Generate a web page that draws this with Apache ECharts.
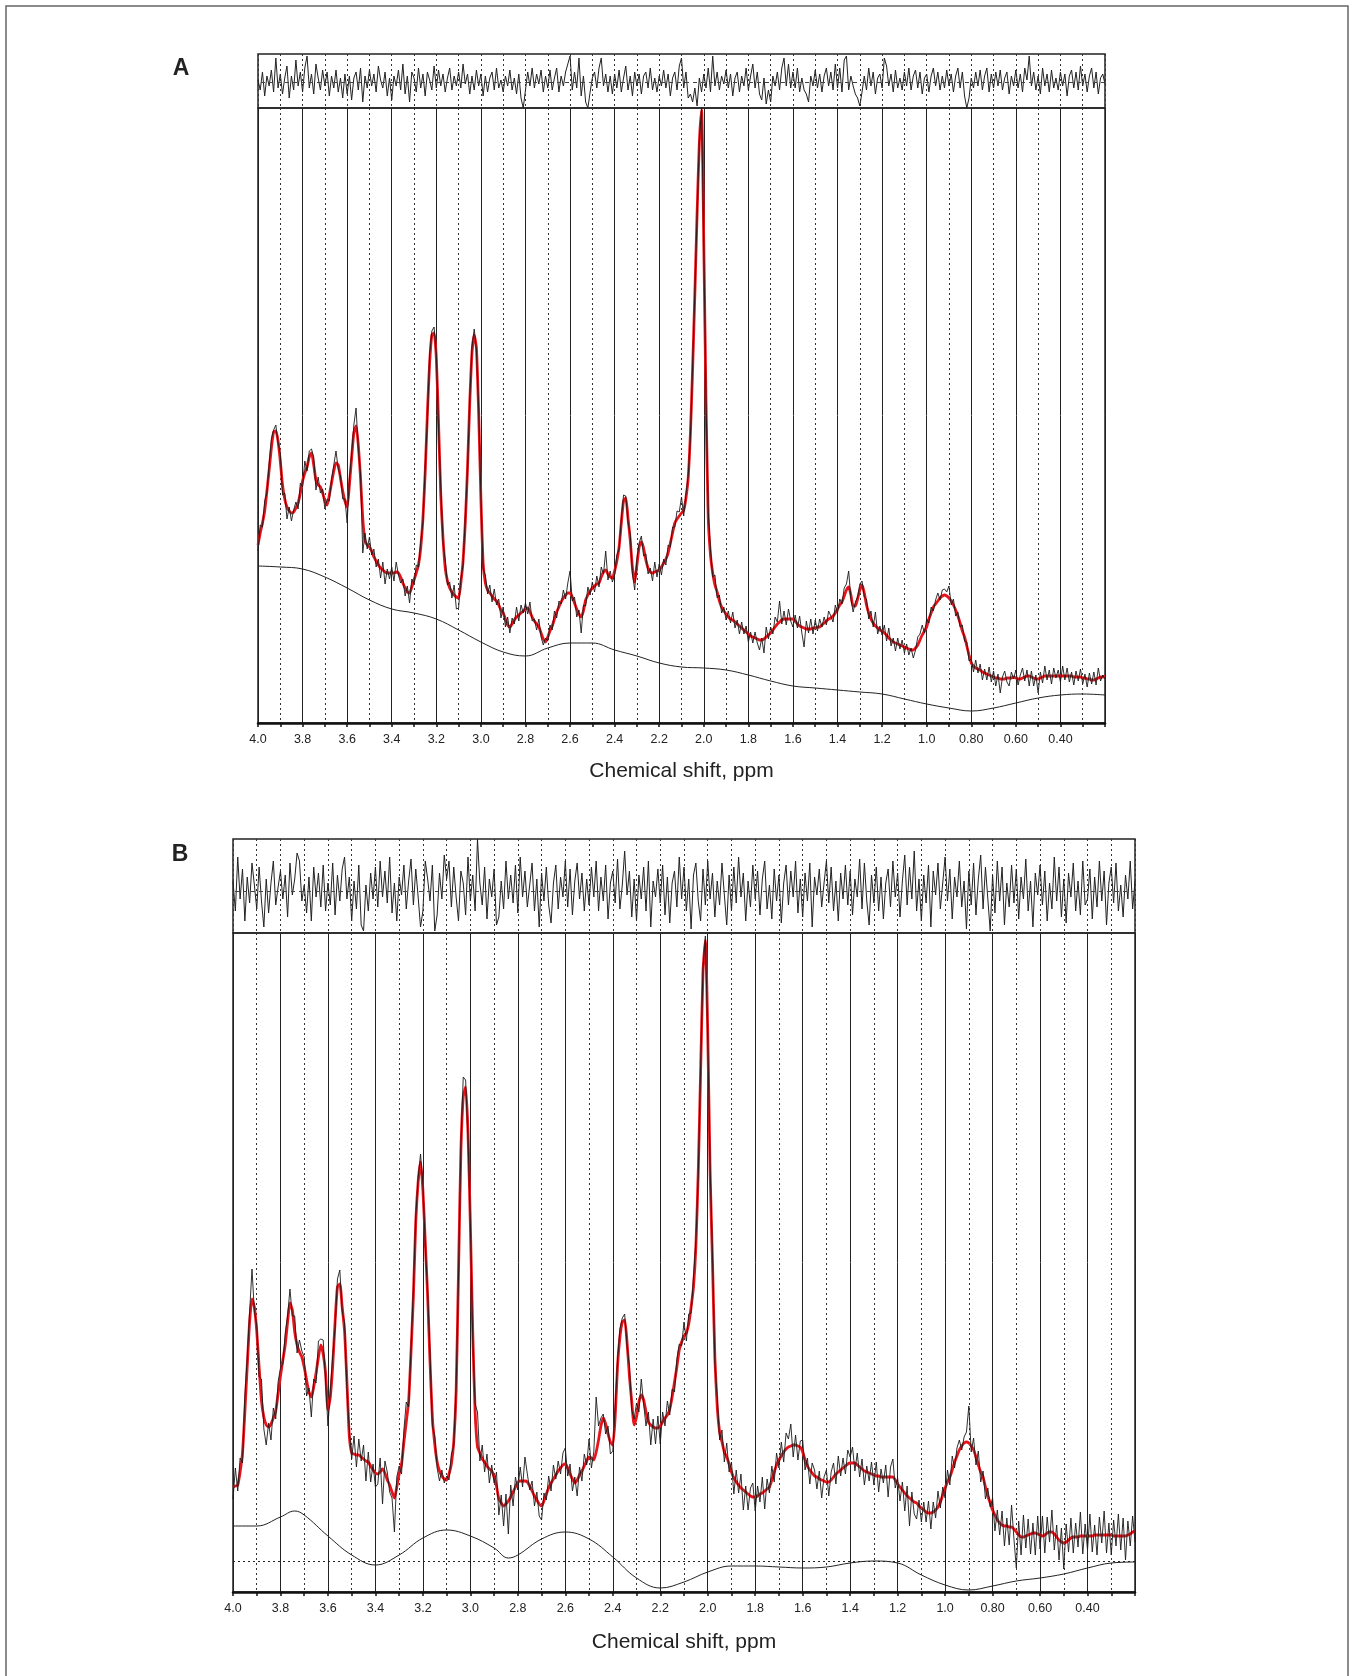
<!DOCTYPE html>
<html><head><meta charset="utf-8">
<script src="https://cdn.jsdelivr.net/npm/echarts@6/dist/echarts.min.js"></script>
<style>html,body{margin:0;padding:0;background:#fff}#c{width:1353px;height:1676px}</style>
</head><body><div id="c"></div>
<script>
// ppm grid of the sampled traces: 4.00 down to 0.20 in 0.01 steps (381 samples)
const PPM_START = 4.0, PPM_STEP = 0.01;
const tickLabels = ['4.0','3.8','3.6','3.4','3.2','3.0','2.8','2.6','2.4','2.2','2.0','1.8','1.6','1.4','1.2','1.0','0.80','0.60','0.40'];
const axisTitle = 'Chemical shift, ppm';

// ---------- Panel A ----------
const fitA = [
178,190,200,212,232,253,275,291,292,282,
262,238,224,216,212,210,211,215,220,230,
242,250,256,266,270,258,243,238,236,230,
222,218,228,240,252,260,258,245,232,222,
216,238,265,290,297,278,245,205,182,178,
176,172,166,162,158,155,153,151,150,150,
150,150,151,150,146,140,135,131,130,136,
143,150,158,175,205,250,310,360,388,390,
365,300,228,185,155,142,135,131,128,126,
125,140,162,200,255,320,370,388,375,310,
225,160,140,133,130,127,124,122,118,113,
110,104,98,96,99,103,106,108,110,112,
114,115,111,106,102,99,96,90,84,81,
86,92,97,104,111,116,121,125,128,130,
130,126,120,114,109,106,112,123,128,132,
135,137,139,140,146,151,153,149,146,145,
152,162,176,200,222,225,205,183,155,141,
158,176,181,175,163,155,151,150,151,152,
153,156,160,164,170,180,190,200,204,207,
210,213,225,245,290,355,430,510,580,613,
480,320,205,168,150,138,131,122,116,112,
109,106,104,103,101,99,97,95,93,91,
89,87,86,85,84,83,83,84,86,88,
90,93,96,99,101,103,104,104,104,104,
104,102,99,97,96,95,94,94,94,95,
95,96,96,98,100,102,104,105,107,110,
114,118,121,127,133,136,128,117,117,124,
133,138,130,118,110,104,100,97,95,93,
92,90,88,85,83,81,80,79,78,77,
76,75,74,73,73,75,78,83,88,92,
96,104,110,116,119,122,125,127,128,127,
125,122,118,113,107,100,92,86,77,68,
60,57,55,54,53,51,50,49,48,47,
46,45,45,44,44,44,45,45,45,46,
45,44,44,45,46,47,47,46,45,44,
44,45,46,47,47,47,47,47,47,47,
47,47,47,47,47,47,46,46,46,46,
45,45,44,44,43,43,44,45,46,46,
47];

const specA = [
172,198,196,222,230,259,284,293,298,280,
270,228,230,204,216,202,213,221,214,240,
236,262,252,272,274,266,233,246,230,234,
214,224,222,244,258,272,254,247,224,224,
200,244,269,298,315,274,249,170,190,174,
186,168,174,156,164,145,161,139,154,144,
156,142,161,148,140,144,127,137,120,144,
139,158,156,181,201,256,304,368,392,396,
369,294,236,180,163,138,141,125,138,114,
115,144,158,206,253,324,376,394,373,314,
227,154,148,129,138,121,134,118,124,105,
116,96,106,90,105,99,116,102,118,110,
120,109,121,102,104,93,104,86,78,85,
82,98,93,112,105,122,119,133,124,140,
152,122,126,106,113,90,118,117,136,128,
141,131,147,136,156,149,172,143,152,141,
148,168,174,204,228,227,201,189,149,133,
164,180,187,167,169,149,155,142,161,146,
159,148,164,158,178,176,196,196,212,211,
226,207,229,247,286,359,432,508,582,615,
478,324,211,174,146,148,125,128,110,116,
103,112,100,111,95,103,89,101,89,97,
81,91,80,91,80,73,85,70,96,84,
96,89,106,101,122,99,112,98,114,102,
96,108,95,107,90,76,102,90,104,89,
103,92,104,96,106,98,112,107,101,118,
110,124,119,135,139,152,124,111,121,126,
139,142,126,124,104,112,96,111,89,97,
88,98,82,95,77,85,72,85,74,83,
70,79,68,75,65,73,86,89,98,90,
104,100,116,112,123,130,123,133,134,131,
137,118,124,107,111,96,98,82,81,62,
64,51,63,50,59,43,54,43,56,41,
52,37,49,30,46,52,41,37,51,44,
53,38,48,55,42,53,37,52,37,48,
30,51,40,57,43,53,39,55,45,53,
41,57,43,55,41,51,38,52,42,54,
39,49,36,50,39,51,38,55,42,48,
44];

const residA = [
2,-8,10,-14,6,-4,12,-10,24,-6,
8,-12,4,16,-16,6,-8,22,-4,10,
-10,14,26,-6,8,-12,18,4,-8,12,
-4,10,-14,6,-6,12,-10,4,-16,8,
-12,6,-18,4,10,-8,14,-20,6,-6,
12,-4,8,-10,16,2,-6,10,-14,4,
-18,6,-4,12,-8,18,-12,6,-20,10,
4,-10,14,-6,8,-14,10,2,-8,16,
-6,12,-4,8,-10,4,14,-8,6,-4,
10,-6,18,-2,8,-12,6,-8,12,-4,
8,-14,6,-10,4,10,-8,14,-6,2,
-10,6,-4,12,-8,4,-12,8,-16,-26,
-8,10,-4,14,-6,8,-2,12,-10,6,
-6,12,-8,4,14,-10,6,-4,10,18,
26,-8,10,-6,24,-14,6,-20,-26,-10,
4,10,-6,14,24,-4,8,-10,6,-12,
8,-6,12,-10,4,16,-8,6,-14,10,
-4,8,-12,6,10,-6,14,-8,4,-10,
6,-4,12,-6,8,-14,4,10,-8,16,
24,-6,10,-16,-12,-20,-6,-24,4,-10,
8,-6,14,-10,26,-4,10,-8,6,-2,
12,-6,8,-14,4,10,-10,6,-4,14,
-8,6,18,-6,10,-12,-18,4,-22,-8,
-20,6,-4,10,-8,14,24,-4,18,-6,
10,-6,14,-10,4,-8,-12,-20,6,-4,
12,-6,8,-10,6,14,-4,10,-8,18,
-6,14,-10,22,26,-8,6,-4,-12,-16,
-24,-10,6,-8,14,-4,10,-12,4,8,
-6,24,16,-4,8,-10,12,-6,4,-8,
10,-4,14,-8,6,12,-6,10,-12,4,
8,-10,6,14,-4,10,-8,6,-6,12,
-4,8,-10,6,14,-6,10,-14,-26,-16,
4,-6,10,-4,12,-8,6,14,-10,8,
-6,10,-4,12,-8,4,10,-12,6,-4,
12,-6,8,-10,14,2,26,-4,10,-8,
6,-12,14,-4,8,-10,12,-6,4,-8,
10,-4,8,-14,6,12,-6,10,-8,16,
-4,8,-10,6,14,-6,10,-12,4,8,
-2];

const baseA_ppm = [4.0,3.9,3.8,3.7,3.6,3.5,3.4,3.3,3.2,3.1,3.0,2.9,2.8,2.7,2.6,2.5,2.4,2.3,2.2,2.1,2.0,1.9,1.8,1.7,1.6,1.5,1.4,1.3,1.2,1.1,1.0,0.9,0.8,0.7,0.6,0.5,0.4,0.3,0.2];
const baseA = [157,156,154,146,135,123,114,110,104,93,81,71,67,75,80,80,73,67,60,56,55,53,48,42,37,35,33,31,29,24,19,15,12,15,20,25,28,29,28];

// ---------- Panel B ----------
const fitB = [
105,106,107,120,139,180,226,270,293,285,
261,225,191,175,167,165,168,174,181,198,
216,232,247,270,289,282,260,247,240,235,
225,212,200,195,205,219,235,247,238,219,
182,195,226,270,305,308,285,261,210,156,
139,138,137,137,135,133,131,130,126,122,
119,118,120,123,119,112,107,100,94,105,
118,128,150,170,191,240,296,370,410,430,
402,350,296,230,174,148,130,121,116,113,
112,118,128,150,200,320,440,495,505,460,
367,260,180,145,139,133,130,126,123,121,
115,106,93,89,86,88,91,95,100,105,
110,111,111,111,110,106,101,96,92,88,
86,91,98,104,109,113,117,121,124,127,
128,124,118,113,109,112,117,121,126,131,
135,134,132,140,152,166,174,168,158,150,
147,175,226,255,270,272,250,216,190,167,
175,190,197,192,180,170,167,165,164,164,
166,170,174,177,183,195,210,225,242,250,
256,259,268,285,305,345,420,520,620,652,
560,420,330,235,185,160,150,140,135,128,
120,114,110,107,104,102,100,98,96,95,
95,96,98,99,101,103,105,112,120,127,
132,136,140,143,145,146,147,147,146,145,
140,132,126,122,119,116,115,113,112,111,
110,110,112,115,118,120,122,124,126,128,
129,129,129,127,125,123,121,120,119,118,
117,116,116,115,115,115,115,115,115,112,
108,105,102,99,96,94,92,90,89,86,
84,82,80,79,79,80,82,85,90,97,
104,110,115,122,130,136,142,146,149,150,
149,146,142,135,127,120,115,105,96,89,
82,77,72,69,67,66,66,65,65,63,
60,57,55,55,56,57,58,59,59,58,
57,56,57,59,60,60,58,55,52,50,
49,50,52,54,55,55,55,56,56,56,
56,56,56,57,57,57,57,57,57,57,
57,56,56,56,56,56,56,57,58,60,
61];

const specB = [
93,124,101,134,129,196,234,280,323,281,
267,215,213,163,147,169,152,184,173,210,
224,228,259,276,303,276,276,239,252,241,
235,196,204,175,213,209,251,253,252,211,
166,201,236,264,313,322,281,269,202,162,
133,156,125,153,131,147,111,140,110,128,
105,108,134,88,131,120,100,94,60,115,
126,118,162,190,185,244,304,376,414,438,
408,346,300,238,166,156,124,111,122,109,
116,112,138,146,206,316,446,515,512,454,
371,254,188,180,131,147,120,138,109,127,
109,120,77,97,66,98,58,107,86,115,
102,125,105,135,118,102,111,86,100,76,
72,99,92,116,101,127,113,131,118,139,
144,116,128,101,115,96,125,111,138,127,
153,124,140,195,166,174,178,158,166,138,
141,185,232,263,274,278,246,226,182,173,
189,180,213,188,166,180,147,173,148,176,
148,180,166,191,177,203,200,233,248,246,
270,251,278,279,315,351,416,526,624,656,
556,426,338,229,195,152,162,130,149,120,
130,98,122,99,118,82,106,82,104,109,
81,106,90,115,83,113,99,126,110,139,
124,150,130,159,153,168,135,157,132,151,
152,122,134,108,129,122,103,121,94,115,
122,96,120,129,108,136,116,134,118,142,
135,145,121,139,115,133,107,126,111,130,
107,130,100,123,109,127,95,125,133,104,
114,91,110,81,106,66,100,78,73,92,
70,90,70,91,63,90,74,101,84,105,
94,122,107,136,124,144,152,142,155,160,
186,140,154,127,141,110,121,93,104,85,
94,61,82,57,81,46,74,47,87,53,
24,71,37,77,44,73,38,69,37,76,
43,76,39,75,50,82,42,67,32,64,
23,68,40,74,39,69,45,80,38,68,
42,78,40,67,37,75,49,81,39,69,
37,72,46,78,42,74,32,71,46,76,
50];

const residB = [
10,-20,34,-8,22,-30,14,-12,28,6,
-18,24,-10,-36,12,-22,8,30,-14,4,
20,-8,16,-26,28,-4,12,38,30,-10,
6,-22,14,-30,24,-6,18,-16,26,-20,
8,-14,28,-24,16,-10,22,34,-8,14,
-30,10,-18,26,-34,-40,6,-20,18,-8,
24,-16,30,-6,20,-12,34,-22,8,-30,
14,-4,26,-18,10,32,-14,22,-6,-36,
-20,30,12,-10,26,-40,-24,18,-8,36,
12,30,-16,24,-6,-30,20,8,-24,34,
-10,16,-20,52,8,-14,24,-28,12,-6,
22,-34,-26,10,-18,30,-8,16,-12,26,
-22,34,-6,20,-16,6,28,-20,12,-36,
18,-10,24,-14,-32,8,26,-18,14,-6,
30,-16,22,-24,10,28,-8,18,-20,12,
-14,24,-6,30,-20,14,-10,26,-28,8,
20,-12,32,-18,6,40,-4,20,-26,12,
-30,16,-8,24,-20,30,-36,10,-6,22,
-12,26,-24,14,-32,8,20,-16,34,-8,
24,-20,12,-38,16,28,-10,-30,22,-14,
30,-8,18,-26,10,-14,28,-4,-34,16,
-20,24,-12,34,-6,18,-30,10,-16,26,
-8,20,-24,12,30,-18,6,-28,22,-10,
16,-32,8,26,-14,20,-6,30,-22,12,
-26,18,-10,28,-36,14,-4,22,-16,8,
30,-12,24,-20,10,-30,18,-8,26,-14,
20,-24,12,-6,32,-18,28,-10,-34,16,
-12,24,-20,14,-28,8,22,-16,30,-6,
18,-26,10,36,-14,24,-8,40,-20,12,
-30,16,-12,26,-36,20,-4,28,-18,8,
34,-10,22,-28,14,-6,30,-16,10,-38,
20,-14,28,-24,12,36,-18,24,-8,-40,
16,-22,30,-10,24,-34,8,-16,26,-12,
22,-28,14,-8,32,-20,10,-36,18,-4,
26,-14,20,-30,8,-18,34,-10,24,-26,
12,-32,18,-6,28,-20,10,-24,30,-14,
-8,22,-28,14,-16,30,-10,20,-34,8,
24,-12,28,-20,6,-26,16,-8,30,-18,
10];

const baseB_ppm = [4.0,3.9,3.8,3.74,3.7,3.6,3.5,3.4,3.3,3.2,3.1,3.0,2.9,2.84,2.8,2.7,2.6,2.5,2.4,2.3,2.2,2.1,2.0,1.9,1.8,1.7,1.6,1.5,1.4,1.3,1.2,1.1,1.0,0.9,0.8,0.7,0.6,0.5,0.4,0.3,0.2];
const baseB = [66,66,75,81,77,56,37,27,37,54,62,56,44,34,37,53,60,53,35,14,4,10,20,26,26,25,24,25,29,31,29,17,7,2,6,11,14,18,24,29,30];
const zeroB = 31;

// ---------- helpers ----------
const FONT = '"Liberation Sans", Arial, Helvetica, sans-serif';
function sampled(arr){ return arr.map((v,i)=>[+(PPM_START - i*PPM_STEP).toFixed(2), v]); }
function paired(xs, ys){ return xs.map((x,i)=>[x, ys[i]]); }
function tickFmt(v){
  const s = tickLabels.find(t => Math.abs(parseFloat(t) - v) < 1e-6);
  return s || '';
}
function xAx(gridIndex, extra){
  return Object.assign({
    type:'value', gridIndex, min:0.2, max:4.0, inverse:true, interval:0.1,
    axisLine:{show:false}, axisTick:{show:false}, axisLabel:{show:false},
    splitLine:{show:true, lineStyle:{color:'#333', width:1, type:[2,3]}}
  }, extra || {});
}
function labelledX(gridIndex, gap){
  return xAx(gridIndex, {
    axisLine:{show:true, onZero:false, lineStyle:{color:'#111', width:2.5}},
    axisTick:{show:true, length:4, lineStyle:{color:'#111', width:1.5}},
    axisLabel:{show:true, margin:10, fontSize:12.5, color:'#222', fontFamily:FONT, formatter:tickFmt, showMinLabel:true, showMaxLabel:true},
    name: axisTitle, nameLocation:'middle', nameGap:gap,
    nameTextStyle:{fontSize:21, color:'#222', fontFamily:FONT}
  });
}
function solidX(gridIndex){
  return xAx(gridIndex, {interval:0.2, splitLine:{show:true, lineStyle:{color:'#222', width:1, type:'solid'}}});
}
const gridStyle = {show:true, borderColor:'#222', borderWidth:1.5, backgroundColor:'transparent'};
const lineBase = {type:'line', showSymbol:false, symbol:'none', silent:true, animation:false};

const option = {
  animation:false,
  backgroundColor:'#fff',
  grid:[
    Object.assign({left:258, top:54, width:847, height:54}, gridStyle),
    Object.assign({left:258, top:108, width:847, height:615}, gridStyle),
    Object.assign({left:233, top:839, width:902, height:94}, gridStyle),
    Object.assign({left:233, top:933, width:902, height:659}, gridStyle)
  ],
  xAxis:[
    xAx(0), labelledX(1, 38), solidX(1),
    xAx(2), labelledX(3, 40), solidX(3)
  ],
  yAxis:[
    {type:'value', gridIndex:0, min:-26, max:28, show:false},
    {type:'value', gridIndex:1, min:0, max:615, show:false},
    {type:'value', gridIndex:2, min:-42, max:52, show:false},
    {type:'value', gridIndex:3, min:0, max:659, show:false}
  ],
  series:[
    Object.assign({}, lineBase, {name:'residual A', xAxisIndex:0, yAxisIndex:0, data:sampled(residA),
      lineStyle:{color:'#222', width:1}, z:3,
      markLine:{silent:true, symbol:'none', label:{show:false}, lineStyle:{color:'#444', width:1, type:[4,4]}, data:[{yAxis:0}]}}),
    Object.assign({}, lineBase, {name:'baseline A', xAxisIndex:1, yAxisIndex:1, data:paired(baseA_ppm, baseA), smooth:0.4,
      lineStyle:{color:'#222', width:1}, z:3}),
    Object.assign({}, lineBase, {name:'fit A', xAxisIndex:1, yAxisIndex:1, data:sampled(fitA), smooth:0.2,
      lineStyle:{color:'#e8141b', width:2.8}, z:4}),
    Object.assign({}, lineBase, {name:'spectrum A', xAxisIndex:1, yAxisIndex:1, data:sampled(specA),
      lineStyle:{color:'#1a1a1a', width:0.9}, z:5}),
    Object.assign({}, lineBase, {name:'residual B', xAxisIndex:3, yAxisIndex:2, data:sampled(residB),
      lineStyle:{color:'#222', width:1}, z:3,
      markLine:{silent:true, symbol:'none', label:{show:false}, lineStyle:{color:'#444', width:1, type:[4,4]}, data:[{yAxis:0}]}}),
    Object.assign({}, lineBase, {name:'baseline B', xAxisIndex:4, yAxisIndex:3, data:paired(baseB_ppm, baseB), smooth:0.4,
      lineStyle:{color:'#222', width:1}, z:3,
      markLine:{silent:true, symbol:'none', label:{show:false}, lineStyle:{color:'#222', width:1, type:[2,3]}, data:[{yAxis:zeroB}]}}),
    Object.assign({}, lineBase, {name:'fit B', xAxisIndex:4, yAxisIndex:3, data:sampled(fitB), smooth:0.2,
      lineStyle:{color:'#e8141b', width:2.8}, z:4}),
    Object.assign({}, lineBase, {name:'spectrum B', xAxisIndex:4, yAxisIndex:3, data:sampled(specB),
      lineStyle:{color:'#1a1a1a', width:0.9}, z:5})
  ],
  graphic:[
    {type:'rect', silent:true, shape:{x:6, y:6, width:1342, height:1690}, style:{fill:'none', stroke:'#666', lineWidth:1.5}},
    {type:'text', silent:true, x:181, y:69, style:{text:'A', font:'bold 23px ' + FONT, fill:'#222', align:'center', verticalAlign:'middle'}},
    {type:'text', silent:true, x:180, y:855, style:{text:'B', font:'bold 23px ' + FONT, fill:'#222', align:'center', verticalAlign:'middle'}}
  ]
};
const chart = echarts.init(document.getElementById('c'), null, {renderer:'canvas'});
chart.setOption(option);
</script>
</body></html>
